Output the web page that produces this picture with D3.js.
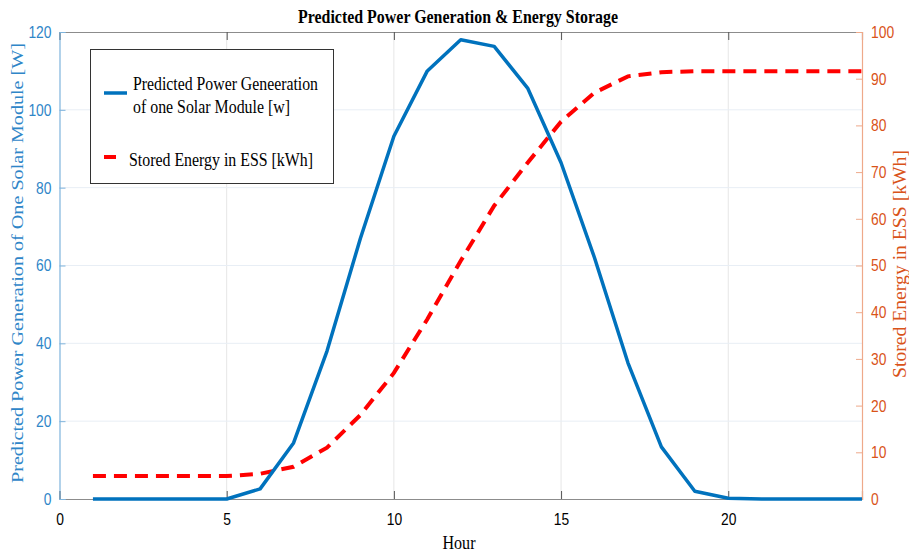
<!DOCTYPE html>
<html><head><meta charset="utf-8">
<script src="https://cdn.jsdelivr.net/npm/d3@7"></script>
<style>body{margin:0;background:#fff}svg{display:block}</style>
</head><body>
<script>
const hours = [1,2,3,4,5,6,7,8,9,10,11,12,13,14,15,16,17,18,19,20,21,22,23,24];
const power = [0,0,0,0,0,2.6,14.4,38,67,93.2,110,118,116.3,105.6,86.4,62,35,13.4,2,0.2,0,0,0,0];
const energy = [4.9,4.9,4.9,4.9,4.9,5.4,6.9,11,18,27,38.5,51,62.8,72,80.8,87,90.5,91.4,91.6,91.6,91.6,91.6,91.6,91.6];
const xTicks = [0,5,10,15,20];
const yLeftTicks = [0,20,40,60,80,100,120];
const yRightTicks = [0,10,20,30,40,50,60,70,80,90,100];

const W = 909, H = 554;
const m = {l:59.5, r:W-862, t:32, b:H-499};
const svg = d3.select("body").append("svg").attr("width",W).attr("height",H);
const x = d3.scaleLinear().domain([0,24]).range([m.l, W-m.r]);
const yL = d3.scaleLinear().domain([0,120]).range([H-m.b, m.t]);
const yR = d3.scaleLinear().domain([0,100]).range([H-m.b, m.t]);

const blue = "#0072BD", orange = "#D95319";
const tf = "Liberation Sans, Arial, sans-serif";
const sf = "Liberation Serif, Times New Roman, serif";
const narrow = sel => sel.attr("font-family",tf).attr("font-size",17)
  .attr("textLength",d=>String(d).length*7.7).attr("lengthAdjust","spacingAndGlyphs");
const g = svg.append("g");
// grid
g.selectAll(".vg").data(xTicks.slice(1)).join("line")
  .attr("x1",d=>x(d)).attr("x2",d=>x(d)).attr("y1",m.t).attr("y2",H-m.b)
  .attr("stroke","#e6e6e6").attr("stroke-width",1);
g.selectAll(".hg").data(yLeftTicks.slice(1,-1)).join("line")
  .attr("x1",m.l).attr("x2",W-m.r).attr("y1",d=>yL(d)).attr("y2",d=>yL(d))
  .attr("stroke","#e8eef5").attr("stroke-width",1);

// axes
const axB = svg.append("g").attr("transform",`translate(0,${H-m.b})`)
  .call(d3.axisBottom(x).tickValues(xTicks).tickSize(-8).tickPadding(14));
axB.select(".domain").attr("stroke","#8c8c8c").attr("stroke-width",1.2);
axB.selectAll(".tick line").attr("stroke","#555");
axB.selectAll("text").attr("fill","#000").call(narrow);

const axT = svg.append("g").attr("transform",`translate(0,${m.t})`)
  .call(d3.axisTop(x).tickValues(xTicks).tickSize(-8).tickFormat(""));
axT.select(".domain").attr("stroke","#8c8c8c").attr("stroke-width",1.2);
axT.selectAll(".tick line").attr("stroke","#555");

const axL = svg.append("g").attr("transform",`translate(${m.l},0)`)
  .call(d3.axisLeft(yL).tickValues(yLeftTicks).tickSize(-6).tickPadding(8));
axL.select(".domain").attr("stroke","#7fb4dc").attr("stroke-width",1.2);
axL.selectAll(".tick line").attr("stroke","#7fb4dc");
axL.selectAll("text").attr("fill","#2f86c8").call(narrow);

const axR = svg.append("g").attr("transform",`translate(${W-m.r},0)`)
  .call(d3.axisRight(yR).tickValues(yRightTicks).tickSize(-6).tickPadding(9));
axR.select(".domain").attr("stroke","#eea98a").attr("stroke-width",1.2);
axR.selectAll(".tick line").attr("stroke","#eea98a");
axR.selectAll("text").attr("fill",orange).call(narrow);

// lines
const lineP = d3.line().x((d,i)=>x(hours[i])).y(d=>yL(d));
const lineE = d3.line().x((d,i)=>x(hours[i])).y(d=>yR(d));
svg.append("path").datum(energy).attr("d",lineE).attr("fill","none")
  .attr("stroke","#ff0000").attr("stroke-width",4).attr("stroke-dasharray","13,8");
svg.append("path").datum(power).attr("d",lineP).attr("fill","none")
  .attr("stroke",blue).attr("stroke-width",3.5).attr("stroke-linejoin","round");

// title & labels
svg.append("text").attr("x",458).attr("y",23).attr("text-anchor","middle")
  .attr("font-family",sf).attr("font-weight","bold")
  .attr("font-size",19).attr("textLength",320).attr("lengthAdjust","spacingAndGlyphs")
  .text("Predicted Power Generation & Energy Storage");
svg.append("text").attr("x",459).attr("y",549).attr("text-anchor","middle")
  .attr("font-family",sf).attr("font-size",19)
  .attr("textLength",33).attr("lengthAdjust","spacingAndGlyphs").text("Hour");
svg.append("text").attr("transform",`translate(23,263) rotate(-90)`)
  .attr("text-anchor","middle").attr("fill","#2f86c8")
  .attr("font-family",sf).attr("font-size",17)
  .attr("textLength",440).attr("lengthAdjust","spacingAndGlyphs")
  .text("Predicted Power Generation of One Solar Module [W]");
svg.append("text").attr("transform",`translate(906,264) rotate(-90)`)
  .attr("text-anchor","middle").attr("fill",orange)
  .attr("font-family",sf).attr("font-size",18)
  .attr("textLength",228).attr("lengthAdjust","spacingAndGlyphs")
  .text("Stored Energy in ESS [kWh]");

// legend
const lg = svg.append("g");
lg.append("rect").attr("x",90.5).attr("y",49.5).attr("width",243).attr("height",134)
  .attr("fill","#fff").attr("stroke","#333").attr("stroke-width",1);
lg.append("line").attr("x1",104).attr("x2",127).attr("y1",93).attr("y2",93)
  .attr("stroke",blue).attr("stroke-width",3.5);
lg.append("line").attr("x1",104).attr("x2",116).attr("y1",157).attr("y2",157)
  .attr("stroke","#ff0000").attr("stroke-width",4);
lg.append("text").attr("x",133).attr("y",90).attr("font-family",sf).attr("font-size",18)
  .attr("textLength",185).attr("lengthAdjust","spacingAndGlyphs").text("Predicted Power Geneeration");
lg.append("text").attr("x",133).attr("y",113).attr("font-family",sf).attr("font-size",18)
  .attr("textLength",157).attr("lengthAdjust","spacingAndGlyphs").text("of one Solar Module [w]");
lg.append("text").attr("x",129).attr("y",166).attr("font-family",sf).attr("font-size",18)
  .attr("textLength",184).attr("lengthAdjust","spacingAndGlyphs").text("Stored Energy in ESS [kWh]");
</script>
</body></html>
